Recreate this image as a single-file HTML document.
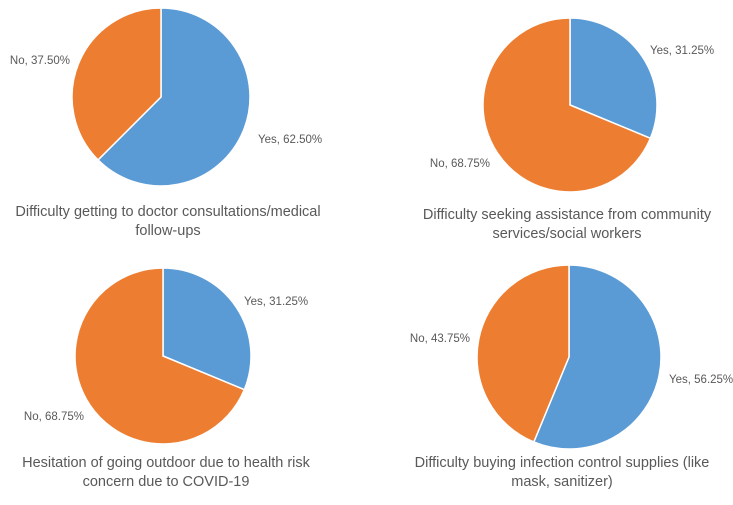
<!DOCTYPE html>
<html><head><meta charset="utf-8"><style>
body{margin:0;background:#fff;}
svg text{font-family:"Liberation Sans",sans-serif;fill:#595959;}
</style></head><body>
<svg id="c" width="733" height="500"></svg>
<script>
const titles=[["Difficulty getting to doctor consultations/medical","follow-ups"],["Difficulty seeking assistance from community","services/social  workers"],["Hesitation of going outdoor due to health risk","concern due to COVID-19"],["Difficulty buying infection control supplies (like","mask, sanitizer)"]];
const yesValues=[62.5,31.25,31.25,56.25];
const noValues=[37.5,68.75,68.75,43.75];
const categories=["Yes","No"];
const layout=[
 {cx:161,cy:97,r:89,ty:216,tx:168,lab:[[258,143,"start"],[70,64,"end"]]},
 {cx:570,cy:105,r:87,ty:219,tx:567,lab:[[650,54,"start"],[490,167,"end"]]},
 {cx:163,cy:356,r:88,ty:467,tx:166,lab:[[244,305,"start"],[84,420,"end"]]},
 {cx:569,cy:357,r:92,ty:467,tx:562,lab:[[669,383,"start"],[470,342,"end"]]}];
const colors=["#5B9BD5","#ED7D31"];
const svg=document.getElementById('c');const NS="http://www.w3.org/2000/svg";
function mk(t,a){const e=document.createElementNS(NS,t);for(const k in a)e.setAttribute(k,a[k]);svg.appendChild(e);return e;}
layout.forEach((L,i)=>{
 const vals=[yesValues[i],noValues[i]];const tot=vals[0]+vals[1];let a0=0;
 vals.forEach((v,j)=>{
  const a1=a0+v/tot*2*Math.PI;
  const p=(a)=>[L.cx+L.r*Math.sin(a),L.cy-L.r*Math.cos(a)];
  const [x0,y0]=p(a0),[x1,y1]=p(a1);
  const d=`M${L.cx},${L.cy} L${x0},${y0} A${L.r},${L.r} 0 ${a1-a0>Math.PI?1:0} 1 ${x1},${y1} Z`;
  const s=mk('path',{d:d,fill:colors[j],stroke:'#fff','stroke-width':1.5});
  
  
  const t=mk('text',{x:L.lab[j][0],y:L.lab[j][1],'font-size':11.5,'text-anchor':L.lab[j][2]});
  t.textContent=categories[j]+", "+vals[j].toFixed(2)+"%";
  
  
  a0=a1;
 });
 titles[i].forEach((line,k)=>{
  const t=mk('text',{x:L.tx,y:L.ty+k*19,'font-size':14.5,'text-anchor':'middle'});
  t.textContent=line;
  
  
 });
});
</script>
</body></html>
